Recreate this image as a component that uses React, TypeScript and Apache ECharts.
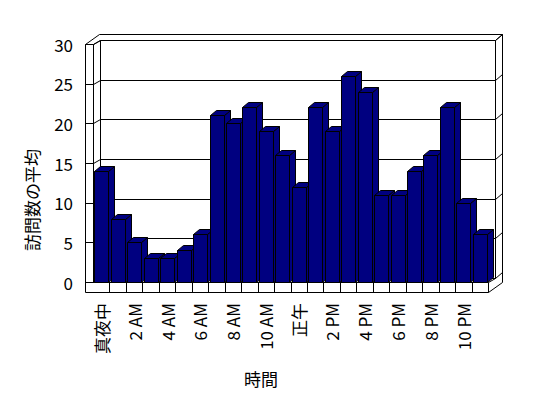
import React, { useEffect, useRef } from "react";
import * as echarts from "echarts";

const categories = [
  "真夜中", "1 AM", "2 AM", "3 AM", "4 AM", "5 AM", "6 AM", "7 AM", "8 AM", "9 AM", "10 AM", "11 AM",
  "正午", "1 PM", "2 PM", "3 PM", "4 PM", "5 PM", "6 PM", "7 PM", "8 PM", "9 PM", "10 PM", "11 PM",
];
const visits = [14, 8, 5, 3, 3, 4, 6, 21, 20, 22, 19, 16, 12, 22, 19, 26, 24, 11, 11, 14, 16, 22, 10, 6];
const yTicks = [0, 5, 10, 15, 20, 25, 30];
const yTitle = "訪問数の平均";
const xTitle = "時間";

const FONT = "'Noto Sans CJK JP', 'Noto Sans', sans-serif";
const WALL_W = 8; // left wall thickness
const FLOOR_H = 10; // floor thickness
const DEPTH = [7, -4]; // front plane -> back wall inner face
const DEPTH_FULL = [14, -10]; // front plane -> back wall outer face
const BAR_DEPTH = [6, -5];
const BAR_COLOR = "#000080";

const h = (n: number) => Math.round(n) + 0.5;

const lineEl = (x1: number, y1: number, x2: number, y2: number) => ({
  type: "line",
  shape: { x1: h(x1), y1: h(y1), x2: h(x2), y2: h(y2) },
  style: { stroke: "#000", lineWidth: 1 },
  silent: true,
});

export default function App() {
  const ref = useRef<HTMLDivElement>(null);
  useEffect(() => {
    document.body.style.margin = "0";
    if (!ref.current) return;
    const chart = echarts.init(ref.current, null, { renderer: "svg" });

    const renderWalls = (params: any) => {
      const cs = params.coordSys;
      const L = cs.x, R = cs.x + cs.width, T = cs.y, B = cs.y + cs.height;
      const [dx, dy] = DEPTH;
      const [ex, ey] = DEPTH_FULL;
      const cw = cs.width / categories.length;
      const children: any[] = [];
      children.push({
        type: "polygon",
        shape: {
          points: [
            [h(L - WALL_W), h(T)],
            [h(L - WALL_W + ex), h(T + ey)],
            [h(R + ex), h(T + ey)],
            [h(R + ex), h(B + FLOOR_H + ey)],
            [h(R), h(B + FLOOR_H)],
            [h(L - WALL_W), h(B + FLOOR_H)],
          ],
        },
        style: { fill: "#fff", stroke: "#000", lineWidth: 1 },
        silent: true,
      });
      children.push(lineEl(L - WALL_W, T, L, T));
      children.push(lineEl(L, T, L, B));
      children.push(lineEl(L, T, L + dx, T + dy));
      children.push({
        type: "rect",
        shape: { x: h(L + dx), y: h(T + dy), width: Math.round(R - L), height: Math.round(B - T) },
        style: { fill: "#fff", stroke: "#000", lineWidth: 1 },
        silent: true,
      });
      children.push(lineEl(R + dx, T + dy, R + ex, T + ey));
      children.push(lineEl(L - WALL_W, B, R, B));
      children.push(lineEl(R, B, R, B + FLOOR_H));
      children.push(lineEl(R, B, R + dx, B + dy));
      children.push(lineEl(L, B, L + dx, B + dy));
      for (let k = 1; k < categories.length; k++) {
        const x = L + k * cw;
        children.push(lineEl(x, B, x, B + FLOOR_H));
      }
      return { type: "group", children };
    };

    const renderGrid = (params: any, api: any) => {
      const cs = params.coordSys;
      const L = cs.x, R = cs.x + cs.width;
      const [dx, dy] = DEPTH;
      const [ex, ey] = DEPTH_FULL;
      const y = api.coord([0, api.value(1)])[1];
      return {
        type: "group",
        children: [
          lineEl(L - WALL_W, y, L, y),
          lineEl(L, y, L + dx, y + dy),
          lineEl(L + dx, y + dy, R + dx, y + dy),
          lineEl(R + dx, y + dy, R + ex, y + ey),
        ],
      };
    };

    const renderBar = (params: any, api: any) => {
      const i = api.value(0);
      const v = api.value(1);
      const p0 = api.coord([i, 0]);
      const p1 = api.coord([i, v]);
      const bw = api.size([1, 0])[0] * 0.84;
      const x = Math.round(p0[0] - bw / 2) + 0.5;
      const w = Math.round(bw);
      const yt = Math.round(p1[1]) + 0.5;
      const yb = Math.round(p0[1]) + 0.5;
      const [bx, by] = BAR_DEPTH;
      const style = { fill: BAR_COLOR, stroke: "#000", lineWidth: 1 };
      return {
        type: "group",
        children: [
          {
            type: "polygon",
            shape: { points: [[x + w, yt], [x + w + bx, yt + by], [x + w + bx, yb + by], [x + w, yb]] },
            style,
          },
          {
            type: "polygon",
            shape: { points: [[x, yt], [x + w, yt], [x + w + bx, yt + by], [x + bx, yt + by]] },
            style,
          },
          { type: "rect", shape: { x, y: yt, width: w, height: yb - yt }, style },
        ],
      };
    };

    chart.setOption({
      animation: false,
      backgroundColor: "#fff",
      grid: { left: 93, right: 60, top: 44, bottom: 116 },
      xAxis: {
        type: "category",
        data: categories,
        axisLine: { show: false },
        axisTick: { show: false },
        axisLabel: {
          interval: 1,
          rotate: 90,
          margin: 21,
          fontSize: 17,
          color: "#000",
          fontFamily: FONT,
        },
      },
      yAxis: {
        type: "value",
        min: 0,
        max: 30,
        interval: 5,
        axisLine: { show: false },
        axisTick: { show: false },
        splitLine: { show: false },
        axisLabel: { margin: 20, fontSize: 17, color: "#000", fontFamily: FONT },
      },
      graphic: [
        {
          type: "text",
          x: 31,
          y: 200,
          rotation: Math.PI / 2,
          style: {
            text: yTitle,
            fontSize: 17,
            fontFamily: FONT,
            fill: "#000",
            align: "center",
            verticalAlign: "middle",
          },
        },
        {
          type: "text",
          x: 261,
          y: 378,
          style: {
            text: xTitle,
            fontSize: 17,
            fontFamily: FONT,
            fill: "#000",
            align: "center",
            verticalAlign: "middle",
          },
        },
      ],
      series: [
        {
          type: "custom",
          z: 1,
          clip: false,
          silent: true,
          data: [[0, 0]],
          renderItem: renderWalls,
        },
        {
          type: "custom",
          z: 2,
          clip: false,
          silent: true,
          data: yTicks.map((v) => [0, v]),
          renderItem: renderGrid,
        },
        {
          type: "custom",
          z: 3,
          clip: false,
          data: visits.map((v, i) => [i, v]),
          renderItem: renderBar,
        },
      ],
    });
    return () => chart.dispose();
  }, []);
  return <div ref={ref} style={{ width: 548, height: 398 }} />;
}
